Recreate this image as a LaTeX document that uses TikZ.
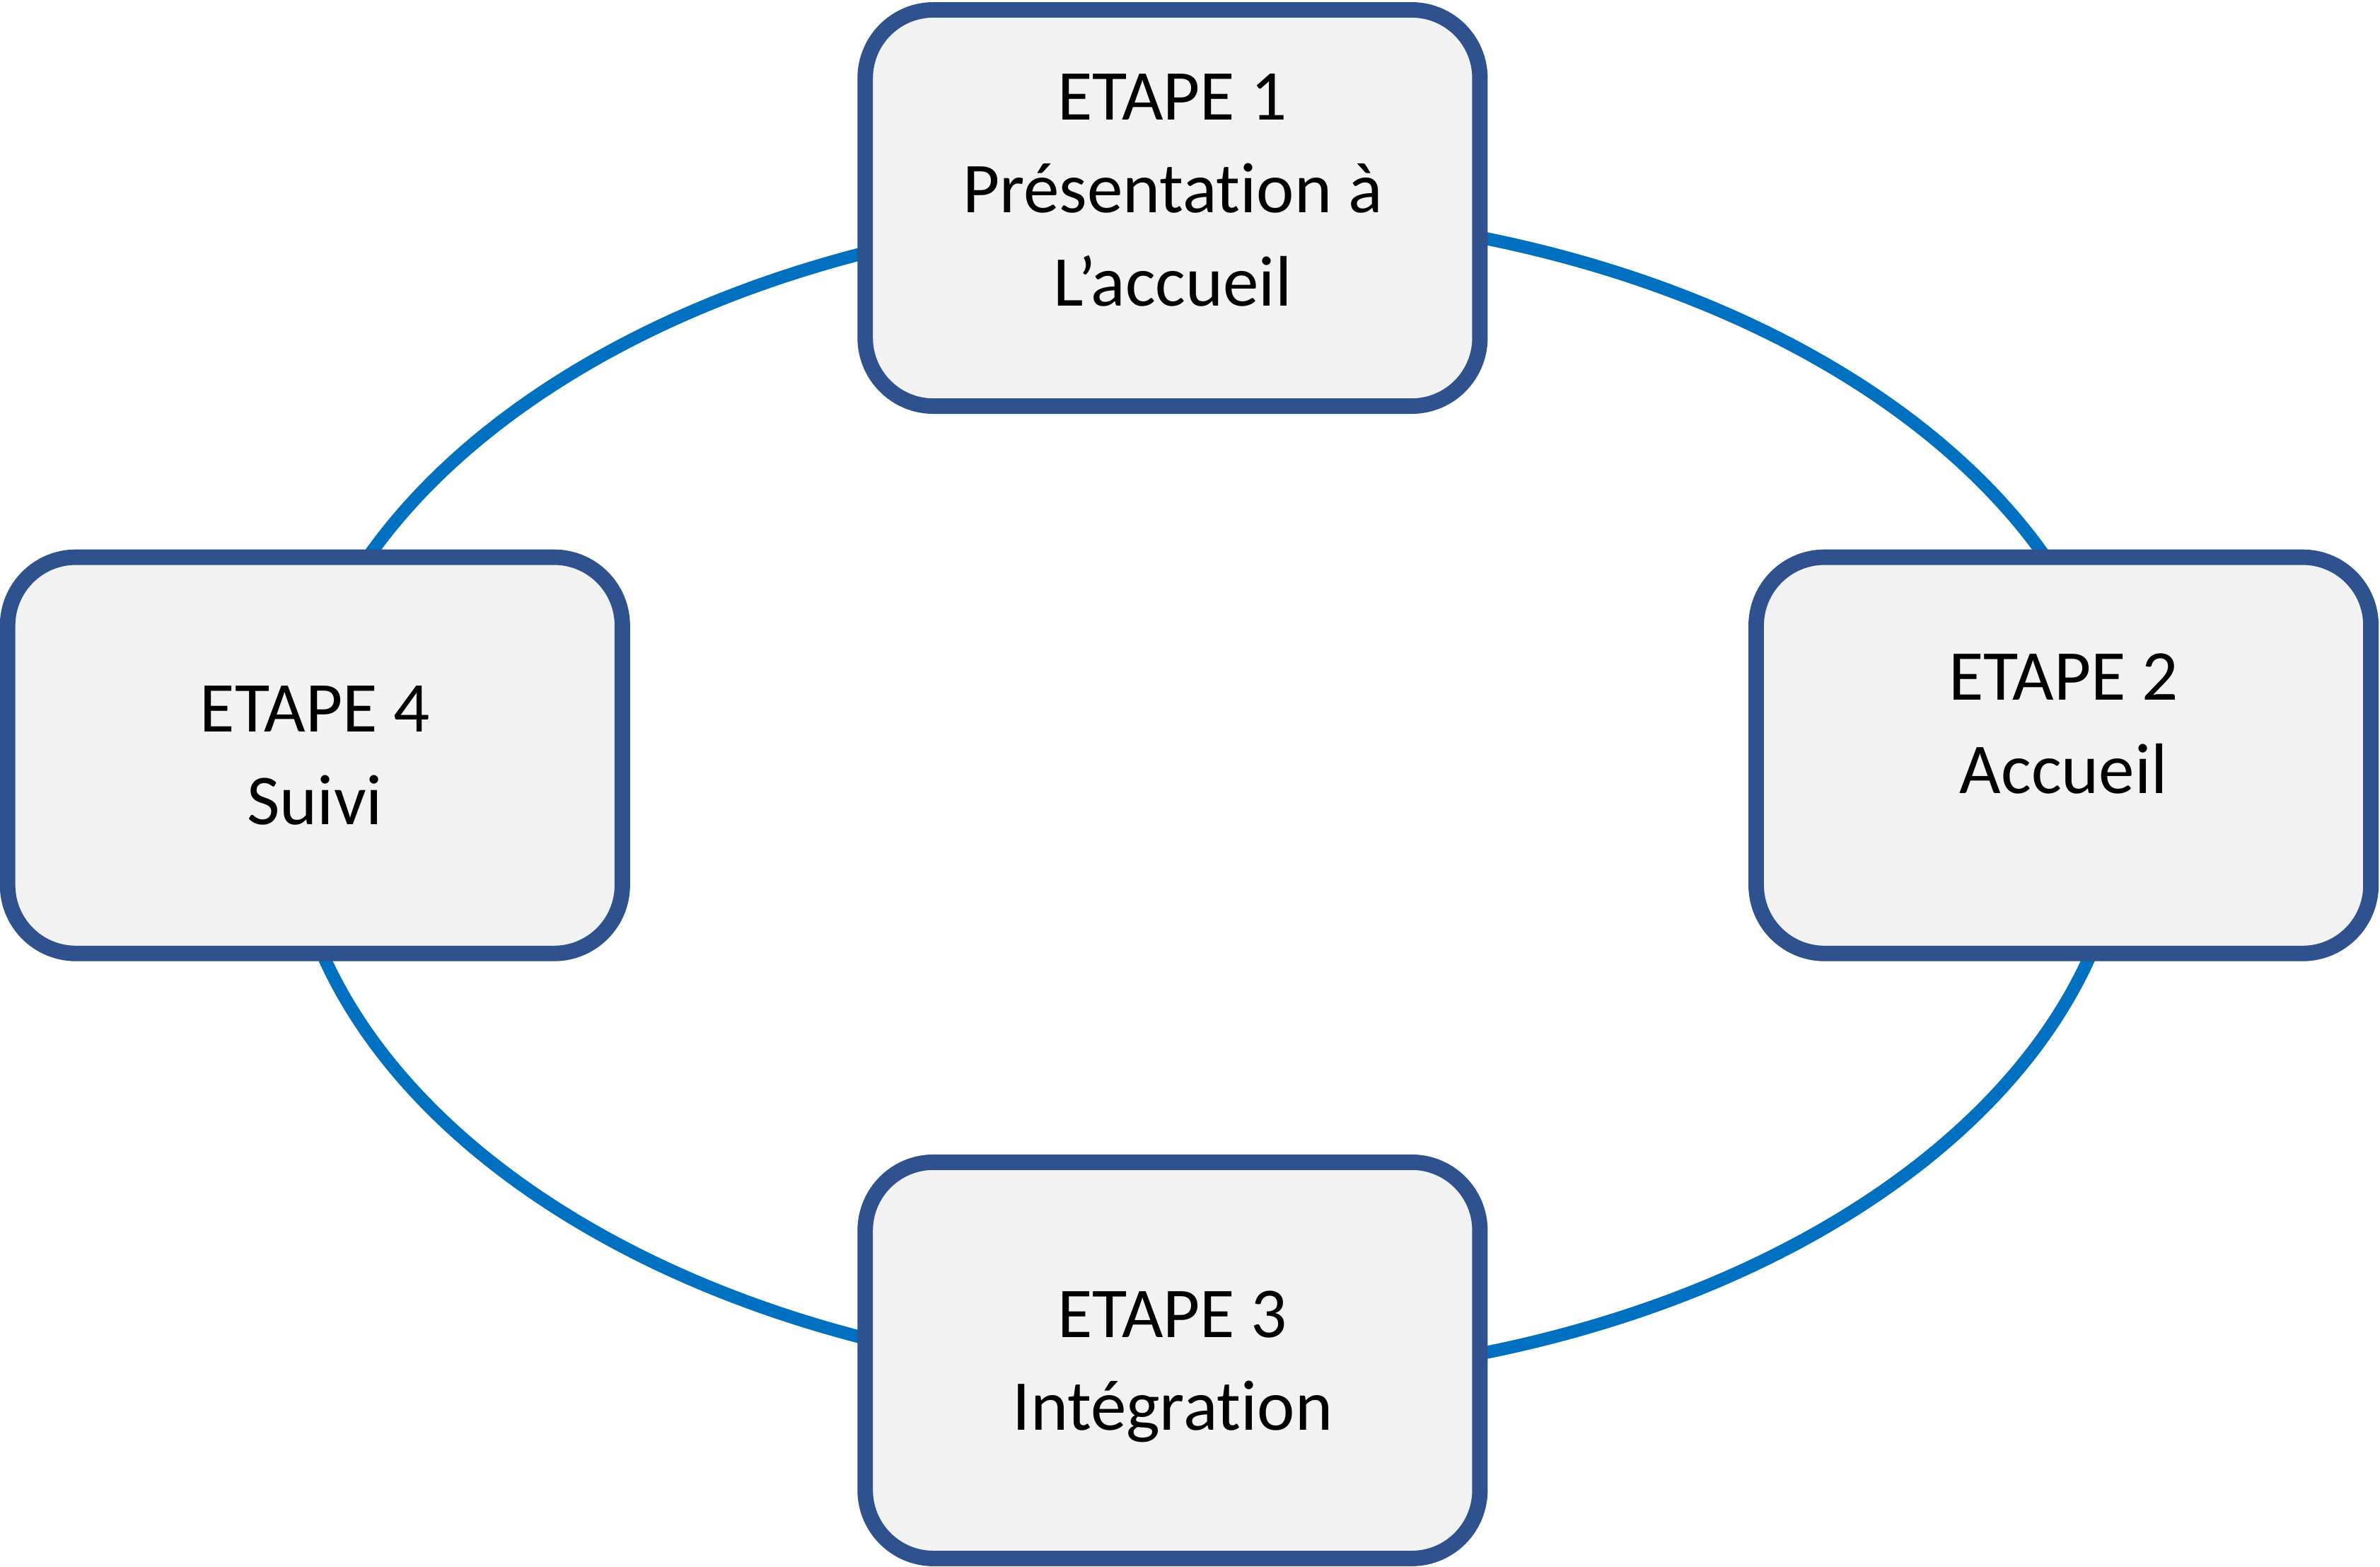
\documentclass[tikz,border=0pt]{standalone}
\usepackage{fontspec}
\setmainfont{Carlito}[Ligatures=NoCommon]
\usepackage{xcolor}
\usepackage{tikz}
\usetikzlibrary{positioning}
\definecolor{ringblue}{HTML}{0070C0}
\definecolor{etapeline}{HTML}{2F528F}
\definecolor{etapefill}{HTML}{F2F2F2}
\tikzset{
  etape/.style={
    draw=etapeline, line width=2.9pt, fill=etapefill, rounded corners=0.45cm,
    minimum width=4.05cm, minimum height=2.61cm, inner sep=0pt, align=center,
    font=\fontsize{13.4}{17.4}\selectfont},
  ring/.style={draw=ringblue, line width=2.4pt},
}

\begin{document}
\begin{tikzpicture}

  \useasboundingbox (0,0) rectangle (15.68,10.32);

  % the cycle behind the steps
  \coordinate (cycle) at (7.95,5.08);
  \draw[ring] (cycle) ellipse [x radius=6.05cm, y radius=3.85cm];

  \node[etape, text depth=0.24cm] (e1) at (7.725,8.95)
    {ETAPE 1\\Présentation à\\L’accueil};
  \node[etape, text depth=0.42cm] (e2) at (13.595,5.345)
    {ETAPE 2\\Accueil};
  \node[etape, text depth=0pt] (e3) at (7.725,1.36)
    {ETAPE 3\\Intégration};
  \node[etape] (e4) at (2.075,5.345)
    {ETAPE 4\\Suivi};

\end{tikzpicture}
\end{document}
